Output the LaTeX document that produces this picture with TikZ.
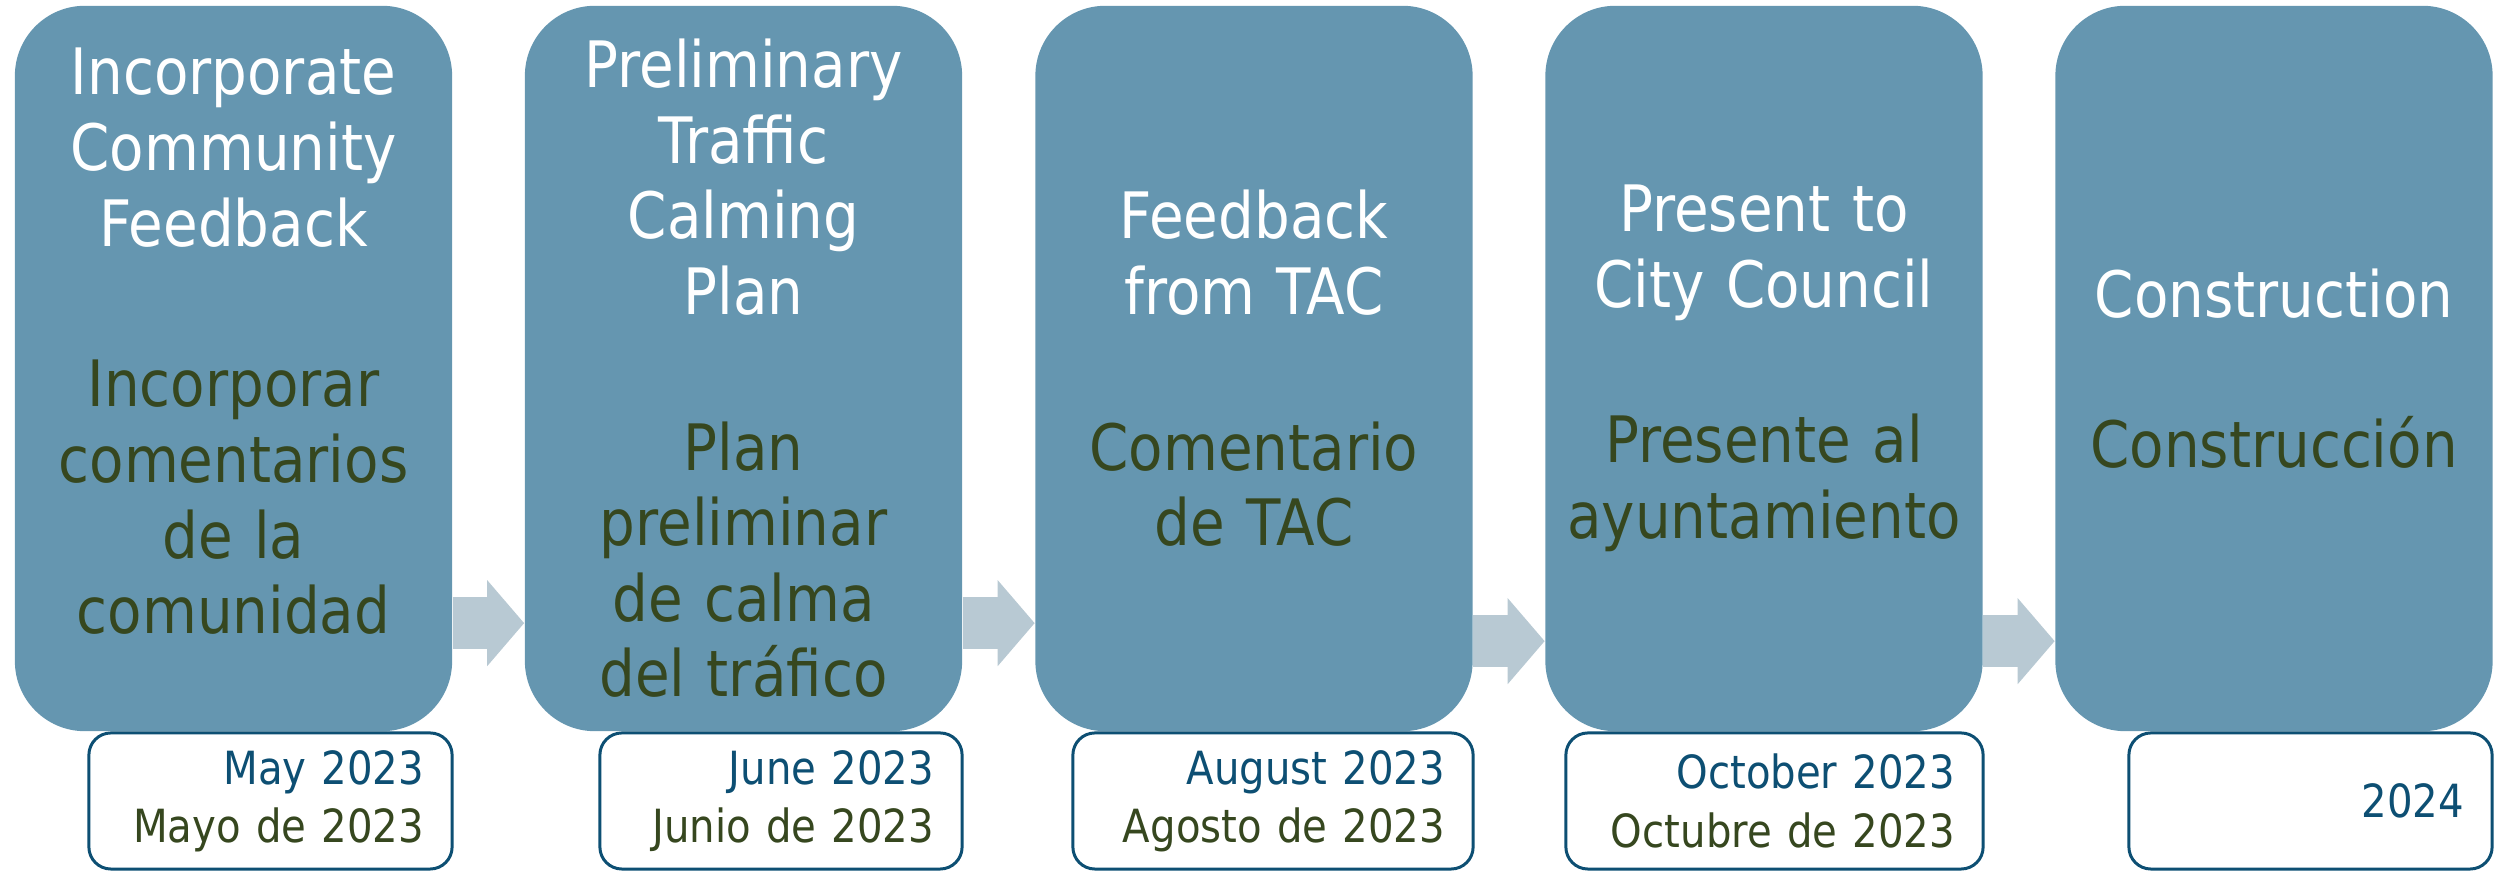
\documentclass[tikz,border=0pt]{standalone}
\usepackage{fontspec}
\setmainfont{DejaVu Sans}[FakeStretch=0.88]
\usetikzlibrary{arrows.meta}
\definecolor{stagefill}{HTML}{6596B0}
\definecolor{arrowfill}{HTML}{B8C9D3}
\definecolor{dateblue}{HTML}{0D4F73}
\definecolor{olivetext}{HTML}{36471F}
\tikzset{
  stagebox/.style={fill=stagefill, rounded corners=0.7cm, minimum width=4.37cm,
    minimum height=7.25cm, inner sep=0pt, text width=4.2cm, align=center, text=white,
    font=\fontsize{18.2pt}{21.5pt}\selectfont},
  datebox/.style={draw=dateblue, line width=0.85pt, fill=white, rounded corners=0.22cm,
    minimum height=1.36cm, inner xsep=0.28cm, inner ysep=0pt, text width=#1,
    align=right, text=dateblue, font=\fontsize{13pt}{16.6pt}\selectfont},
  flowarrow/.style={draw=arrowfill, line width=0.52cm,
    -{Triangle[width=0.84cm, length=0.37cm]}},
}
\begin{document}
\begin{tikzpicture}[x=0.01cm, y=-0.01cm]
        \useasboundingbox (0,0) rectangle (2496,871);
        \node[stagebox] (s1) at (233.5,368.5) {Incorporate\\Community\\Feedback\\[0.85cm]\color{olivetext}Incorporar\\comentarios\\de la\\comunidad\par\vspace{0.54cm}};
        \node[stagebox] (s2) at (743.5,368.5) {Preliminary\\Traffic\\Calming\\Plan\\[0.8cm]\color{olivetext}Plan\\preliminar\\de calma\\del tráfico};
        \node[stagebox] (s3) at (1254,368.5) {Feedback\\from TAC\\[0.8cm]\color{olivetext}Comentario\\de TAC};
        \node[stagebox] (s4) at (1764,368.5) {Present to\\City Council\\[0.8cm]\color{olivetext}Presente al\\ayuntamiento};
        \node[stagebox] (s5) at (2274,368.5) {Construction\\[0.75cm]\color{olivetext}Construcción};
        \node[datebox=3.07cm] (d1) at (270.5,801) {May 2023\\\color{olivetext}Mayo de 2023};
        \node[datebox=3.06cm] (d2) at (781,801) {June 2023\\\color{olivetext}Junio de 2023};
        \node[datebox=3.44cm] (d3) at (1273,801) {August 2023\\\color{olivetext}Agosto de 2023};
        \node[datebox=3.61cm] (d4) at (1774.5,801) {October 2023\\\color{olivetext}Octubre de 2023};
        \node[datebox=3.07cm] (d5) at (2310.5,801) {2024};
        \draw[flowarrow] ([yshift=-2.545cm]s1.east) -- ([yshift=-2.545cm]s2.west);
        \draw[flowarrow] ([yshift=-2.545cm]s2.east) -- ([yshift=-2.545cm]s3.west);
        \draw[flowarrow] ([yshift=-2.725cm]s3.east) -- ([yshift=-2.725cm]s4.west);
        \draw[flowarrow] ([yshift=-2.725cm]s4.east) -- ([yshift=-2.725cm]s5.west);
        \end{tikzpicture}
\end{document}
